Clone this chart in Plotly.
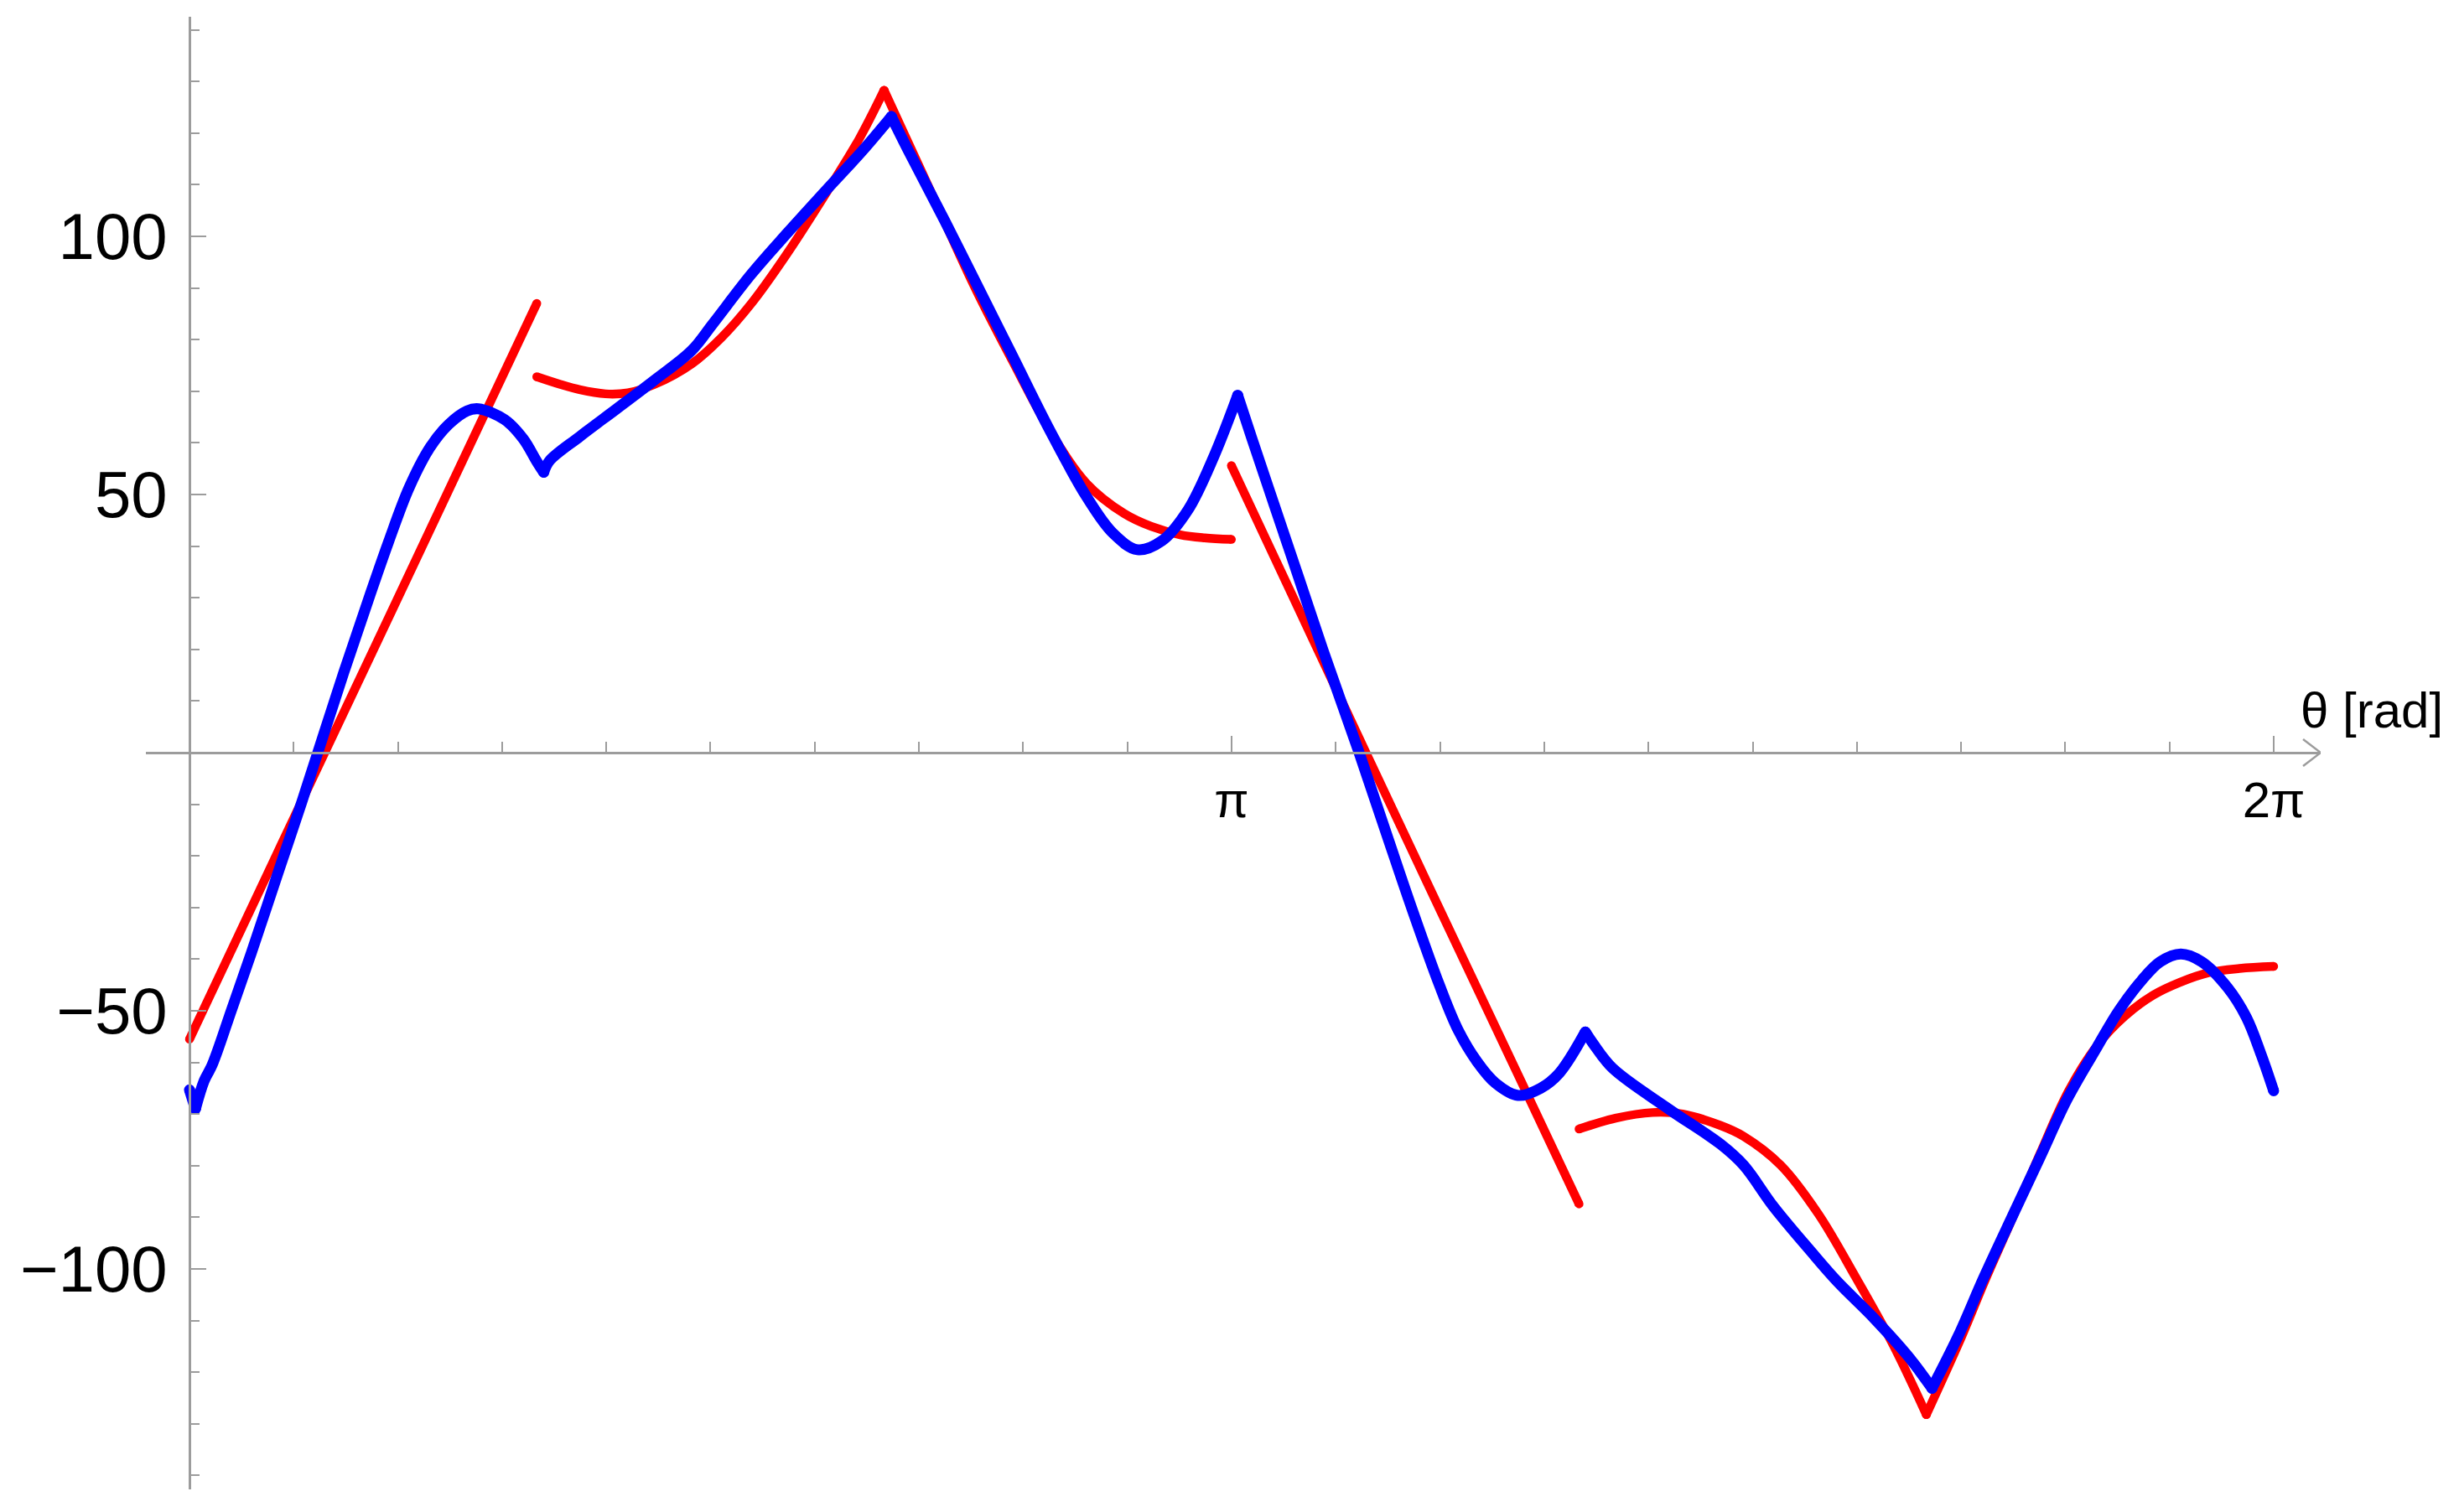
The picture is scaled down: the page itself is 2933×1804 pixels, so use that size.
import math
import plotly.graph_objects as go

# red curve: four separate pieces, None breaks the line
red_theta = [0.000, 0.271, 0.611, 1.047, None,
             1.047, 1.119, 1.176, 1.254, 1.322, 1.401, 1.514, 1.604, 1.694, 1.800, 1.935, 2.020, 2.094,
             2.175, 2.254, 2.361, 2.423, 2.480, 2.593, 2.705, 2.818, 2.900, 2.987, 3.060, 3.141, None,
             3.141, 3.346, 3.543, 3.774, 4.017, 4.189, None,
             4.189, 4.299, 4.411, 4.501, 4.615, 4.685, 4.797, 4.910, 5.023, 5.136, 5.236,
             5.343, 5.411, 5.500, 5.580, 5.665, 5.750, 5.835, 5.919, 6.000, 6.088, 6.180, 6.283]
red_torque = [-55.5, -18.6, 27.6, 87.0, None,
              72.8, 71.3, 70.3, 69.5, 69.7, 71.3, 75.3, 80.4, 87.0, 96.5, 110.0, 119.0, 128.3,
              117.0, 106.0, 91.0, 83.0, 76.0, 62.5, 52.1, 46.3, 43.8, 42.2, 41.6, 41.3, None,
              55.6, 27.5, 0.5, -31.0, -64.0, -87.4, None,
              -72.9, -70.8, -69.7, -70.0, -72.2, -74.3, -79.9, -89.3, -101.6, -114.7, -128.2,
              -113.0, -102.5, -89.5, -77.5, -65.5, -56.8, -51.0, -47.0, -44.5, -42.6, -41.8, -41.4]
red_corners = [2.094, 5.236]

# blue curve: one continuous line
blue_theta = [0.000, 0.018, 0.044, 0.069, 0.128, 0.187, 0.271, 0.339, 0.465, 0.544, 0.600,
              0.662, 0.724, 0.780, 0.837, 0.871, 0.950, 1.006, 1.046, 1.068, 1.085, 1.176, 1.288,
              1.401, 1.514, 1.577, 1.694, 1.803, 1.916, 2.029, 2.116, 2.164, 2.277, 2.367, 2.480,
              2.593, 2.705, 2.784, 2.858, 2.931, 3.010, 3.089, 3.160, 3.202, 3.270, 3.346, 3.419,
              3.526, 3.610, 3.684, 3.768, 3.825, 3.881, 3.937, 4.005, 4.073, 4.129, 4.208, 4.231,
              4.290, 4.459, 4.615, 4.685, 4.775, 4.888, 4.967, 5.079, 5.181, 5.253, 5.332, 5.411,
              5.501, 5.580, 5.659, 5.750, 5.817, 5.885, 5.941, 6.003, 6.066, 6.144, 6.201, 6.246, 6.283]
blue_torque = [-65.3, -69.0, -63.6, -60.4, -49.6, -38.7, -22.5, -9.5, 15.5, 30.5, 40.8,
               51.3, 59.0, 63.5, 66.2, 66.6, 64.5, 60.8, 56.5, 54.3, 56.5, 61.2, 66.6,
               72.1, 77.9, 83.0, 92.7, 100.7, 108.7, 116.6, 123.2, 117.0, 103.0, 91.5, 77.0,
               62.5, 49.5, 42.5, 39.3, 41.0, 47.0, 57.5, 69.2, 61.0, 48.0, 33.5, 19.5,
               0.0, -16.0, -30.0, -45.0, -53.8, -59.8, -64.0, -66.4, -65.0, -62.1, -54.1, -56.3,
               -61.1, -69.0, -75.8, -79.9, -87.9, -96.6, -102.4, -109.6, -116.9, -123.1, -113.0, -101.4,
               -89.0, -78.2, -67.3, -57.1, -49.9, -44.1, -40.5, -39.0, -40.5, -45.5, -51.3, -58.6, -65.5]
blue_corners = [0.018, 1.068, 2.116, 3.160, 4.208, 5.253]

x_tickvals = [math.pi, 2 * math.pi]
x_ticktext = ["π", "2π"]
y_tickvals = [-100, -50, 50, 100]
y_ticktext = ["−100", "−50", "50", "100"]

x_range = [-0.1314, 6.4247]
y_range = [-142.69, 142.53]
axis_grey = "#9c9c9c"


def split_pieces(xs, ys, corners):
    # cut the curve at None gaps and at sharp corners, so the spline keeps the corners sharp
    pieces, cx, cy = [], [], []
    for x, y in zip(xs, ys):
        if x is None:
            pieces.append((cx, cy))
            cx, cy = [], []
            continue
        cx.append(x)
        cy.append(y)
        if x in corners and len(cx) > 1:
            pieces.append((cx, cy))
            cx, cy = [x], [y]
    pieces.append((cx, cy))
    return [p for p in pieces if len(p[0]) > 1]


def add_curve(fig, xs, ys, corners, color, width):
    lx, ly, ex, ey = [], [], [], []
    for px, py in split_pieces(xs, ys, corners):
        lx += px + [None]
        ly += py + [None]
        ex += [px[0], px[-1]]
        ey += [py[0], py[-1]]
    fig.add_trace(go.Scatter(x=lx, y=ly, mode="lines", connectgaps=False,
                             line=dict(color=color, width=width, shape="spline", smoothing=1.0)))
    # round ends and joins
    fig.add_trace(go.Scatter(x=ex, y=ey, mode="markers",
                             marker=dict(color=color, size=width, line=dict(width=0))))


fig = go.Figure()
add_curve(fig, red_theta, red_torque, red_corners, "#ff0000", 10.5)
add_curve(fig, blue_theta, blue_torque, blue_corners, "#0000ff", 13)

fig.update_layout(
    width=2933, height=1804,
    margin=dict(l=166, r=173, t=12, b=35),
    paper_bgcolor="white", plot_bgcolor="white",
    showlegend=False,
    font=dict(family="Liberation Sans, Arial", color="black"),
)
fig.update_xaxes(range=x_range, anchor="free", position=0.5003, automargin=False,
                 showline=True, linecolor=axis_grey, linewidth=2.5,
                 showgrid=False, zeroline=False,
                 ticks="inside", ticklen=19, tickwidth=2, tickcolor=axis_grey,
                 tickvals=x_tickvals, ticktext=x_ticktext,
                 tickfont=dict(size=60), ticklabelstandoff=3,
                 minor=dict(tick0=0, dtick=math.pi / 10, ticks="inside", ticklen=12,
                            tickwidth=2, tickcolor=axis_grey, showgrid=False))
fig.update_yaxes(range=y_range, anchor="free", position=0.02005, automargin=False,
                 showline=True, linecolor=axis_grey, linewidth=2.5,
                 showgrid=False, zeroline=False,
                 ticks="inside", ticklen=18, tickwidth=2, tickcolor=axis_grey,
                 tickvals=y_tickvals, ticktext=y_ticktext,
                 tickfont=dict(size=78), ticklabelstandoff=10,
                 minor=dict(tick0=0, dtick=10, ticks="inside", ticklen=10,
                            tickwidth=2, tickcolor=axis_grey, showgrid=False))

# open arrow head at the right end of the theta axis
tip = x_range[1]
for side in (1, -1):
    fig.add_shape(type="line", xref="x", yref="y",
                  x0=tip, y0=0, x1=tip - 0.053, y1=side * 2.6,
                  line=dict(color=axis_grey, width=2.5))

fig.add_annotation(text="θ [rad]", xref="paper", yref="paper",
                   x=0.990, y=0.5293, xanchor="left", yanchor="middle",
                   showarrow=False, font=dict(size=60))

fig.write_html("out.html")
